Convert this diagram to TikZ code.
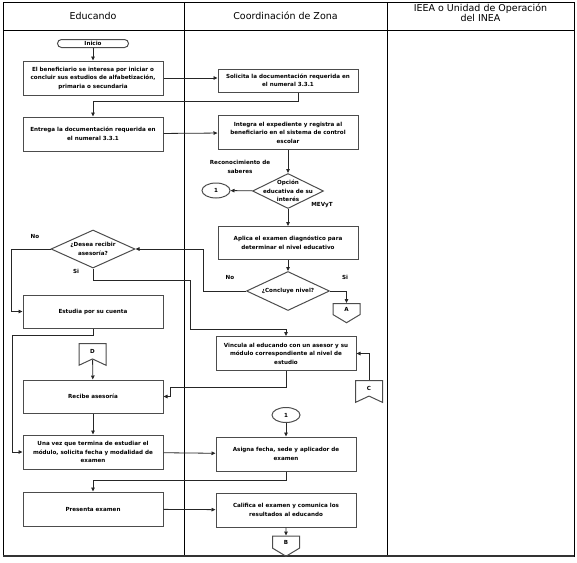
\documentclass[tikz,border=0pt]{standalone}
\usepackage{fontspec}
\setmainfont{DejaVu Sans}
\usetikzlibrary{positioning, arrows.meta, shapes.geometric, shapes.symbols}
\newcommand{\flowtxt}{\fontsize{5.6}{8.5}\selectfont\bfseries}
\newcommand{\headtxt}{\fontsize{9.5}{9.5}\selectfont}
\tikzset{
  proc/.style={rectangle, draw=gray!60!black, line width=1pt,
               minimum width=140pt, minimum height=34pt, align=center},
  term/.style={rectangle, rounded corners=4pt, draw=gray!60!black, line width=1pt,
               minimum width=71pt, minimum height=8pt, inner sep=0pt},
  dec/.style={diamond, draw=gray!60!black, line width=1pt, inner sep=0pt},
  dectext/.style={label={[align=center]center:#1}},
  conn/.style={ellipse, draw=gray!60!black, line width=1pt,
               minimum width=28pt, minimum height=15pt, inner sep=0pt},
  offpage/.style={signal, signal to=south, signal pointer angle=118,
                  draw=gray!60!black, line width=1pt,
                  minimum width=27pt, minimum height=13pt, inner sep=1pt},
  onpage/.style={signal, signal to=nowhere, signal from=south, signal pointer angle=130,
                 draw=gray!60!black, line width=1pt,
                 minimum width=27pt, minimum height=17pt, inner sep=1pt},
  lbl/.style={inner sep=0pt, align=center},
  head/.style={font=\headtxt, align=center},
  lane/.style={draw=black, line width=0.8pt},
  arr/.style={-{Triangle[length=4pt, width=3.5pt]}, line width=0.8pt, black!85},
}
\begin{document}
\begin{tikzpicture}[x=1pt, y=-1pt, node distance=20pt,
                    every node/.style={font=\flowtxt}]
  \useasboundingbox (0,0) rectangle (577,562);
  % carriles
  \draw[lane] (3,2) rectangle (574,556);
  \draw[lane] (3,30) -- (574,30);
  \draw[lane] (184,2) -- (184,556);
  \draw[lane] (387,2) -- (387,556);
  \draw[line width=1.6pt, black!80] (3,556) -- (574,556);
  \node[head] (hedu) at (93,16) {Educando};
  \node[head] (hcz) at (285.5,16) {Coordinación de Zona};
  \node[head] (hieea) at (480.5,13) {IEEA o Unidad de Operación\\del INEA};

  % Educando
  \node[term] (inicio) at (93,43.5) {Inicio};
  \node[proc, below=12.5pt of inicio] (interesa)
        {El beneficiario se interesa por iniciar o\\concluir sus estudios de alfabetización,\\primaria o secundaria};
  \node[proc, below=21pt of interesa] (entrega)
        {Entrega la documentación requerida en\\el numeral 3.3.1};
  \node[dec, minimum width=84pt, minimum height=38pt, below=78pt of entrega,
        dectext={¿Desea recibir\\asesoría?}] (desea) {};
  \node[proc, minimum height=33pt, below=26pt of desea] (estudia) {Estudia por su cuenta};
  \node[onpage, anchor=north] (conD) at (92.5,343) {D};
  \node[proc, minimum height=33pt] (recibe) at (93,396.5) {Recibe asesoría};
  \node[proc, below=21pt of recibe] (unavez)
        {Una vez que termina de estudiar el\\módulo, solicita fecha y modalidad de\\examen};
  \node[proc, below=22pt of unavez] (presenta) {Presenta examen};

  % Coordinacion de Zona
  \node[proc, minimum height=23pt] (solicita) at (288,80.5)
        {Solicita la documentación requerida en\\el numeral 3.3.1};
  \node[proc] (integra) at (288,132.5)
        {Integra el expediente y registra al\\beneficiario en el sistema de control\\escolar};
  \node[dec, minimum width=71pt, minimum height=35pt, below=23pt of integra,
        dectext={Opción\\educativa de su\\interés}] (opcion) {};
  \node[conn] (uno1) at (216,190.5) {1};
  \node[proc, minimum height=33pt, below=17pt of opcion] (aplica)
        {Aplica el examen diagnóstico para\\determinar el nivel educativo};
  \node[dec, minimum width=83pt, minimum height=39pt, below=11pt of aplica,
        dectext={¿Concluye nivel?}] (concluye) {};
  \node[offpage, anchor=north] (conA) at (346.5,303) {A};
  \node[proc] (vincula) at (286,353.5)
        {Vincula al educando con un asesor y su\\módulo correspondiente al nivel de\\estudio};
  \node[onpage, anchor=north] (conC) at (369,380) {C};
  \node[conn] (uno2) at (286,415) {1};
  \node[proc, below=13.5pt of uno2] (asigna)
        {Asigna fecha, sede y aplicador de\\examen};
  \node[proc, below=21pt of asigna] (califica)
        {Califica el examen y comunica los\\resultados al educando};
  \node[offpage, minimum height=14pt, below=8pt of califica] (conB) {B};

  % etiquetas
  \node[lbl] (no1) at (35,236) {No};
  \node[lbl] (si1) at (76,271) {Si};
  \node[lbl] (saberes) at (240,167) {Reconocimiento de\\saberes};
  \node[lbl] (mevyt) at (322,205) {MEVyT};
  \node[lbl] (no2) at (230,277) {No};
  \node[lbl] (si2) at (345,277) {Si};

  % flujo
  \draw[arr] (inicio) -- (interesa);
  \draw[arr] (interesa.east) -- (interesa.east -| solicita.west);
  \draw[arr] ([xshift=10pt]solicita.south) -- ++(0,9) -| (entrega.north);
  \draw[arr] (entrega) -- (integra);
  \draw[arr] (integra) -- (opcion);
  \draw[arr] (opcion) -- (uno1);
  \draw[arr] (opcion) -- (aplica);
  \draw[arr] (aplica) -- (concluye);
  \draw[arr] (concluye.east) -| (conA.north);
  \draw[arr] (concluye.west) -- ++(-43,0) |- (desea.east);
  \draw[arr] (desea.south) -- ++(0,12) -- ++(97,0) -- ++(0,49) -| (vincula.north);
  \draw[arr] (desea.west) -- ++(-39,0) |- (estudia.west);
  \draw[arr] (estudia.south) -- ++(0,7) -- ++(-81,0) |- (unavez.west);
  \draw[arr] (conD) -- (recibe);
  \draw[arr] (recibe) -- (unavez);
  \draw[arr] (vincula.south) -- ++(0,16.5) -- ++(-116,0) |- (recibe.east);
  \draw[arr] (conC.north) |- (vincula.east);
  \draw[arr] (unavez) -- (asigna);
  \draw[arr] (uno2) -- (asigna);
  \draw[arr] (asigna.south) -- ++(0,9) -| (presenta.north);
  \draw[arr] (presenta) -- (califica);
  \draw[arr] (califica) -- (conB);
\end{tikzpicture}
\end{document}
